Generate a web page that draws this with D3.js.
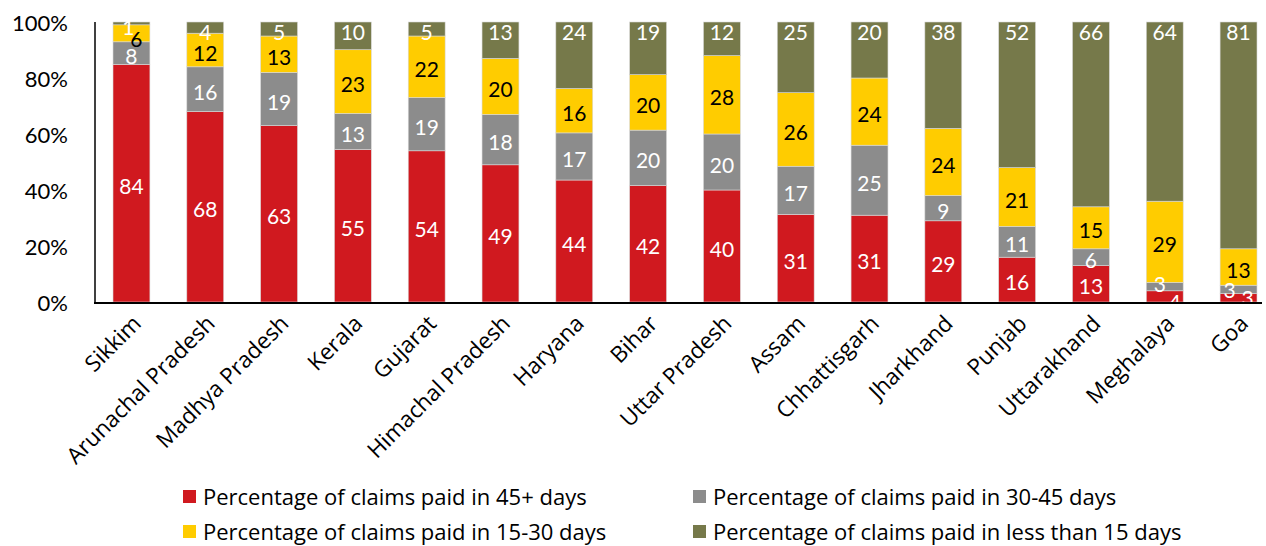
<!DOCTYPE html>
<html><head><meta charset="utf-8">
<script src="https://cdn.jsdelivr.net/npm/d3@7"></script>
<style>body{margin:0;background:#fff;}svg{display:block;}</style>
</head><body>
<svg id="c" width="1266" height="546"></svg>
<script>
const states = ["Sikkim","Arunachal Pradesh","Madhya Pradesh","Kerala","Gujarat","Himachal Pradesh","Haryana","Bihar","Uttar Pradesh","Assam","Chhattisgarh","Jharkhand","Punjab","Uttarakhand","Meghalaya","Goa"];
const paid45plus = [84,68,63,55,54,49,44,42,40,31,31,29,16,13,4,3];
const paid30to45 = [8,16,19,13,19,18,17,20,20,17,25,9,11,6,3,3];
const paid15to30 = [6,12,13,23,22,20,16,20,28,26,24,24,21,15,29,13];
const paidLess15 = [1,4,5,10,5,13,24,19,12,25,20,38,52,66,64,81];
const seriesNames = ["Percentage of claims paid in 45+ days","Percentage of claims paid in 30-45 days","Percentage of claims paid in 15-30 days","Percentage of claims paid in less than 15 days"];
const yTicks = [0,0.2,0.4,0.6,0.8,1];

const keys = ["a","b","c","d"];
const colors = ["#D0191F","#8C8C8C","#FFCC00","#76794A"];
const labelColors = ["#fff","#fff","#000","#fff"];
const table = states.map((s,i)=>({state:s,a:paid45plus[i],b:paid30to45[i],c:paid15to30[i],d:paidLess15[i]}));
const stacked = d3.stack().keys(keys).offset(d3.stackOffsetExpand)(table);

const svg = d3.select("#c");
const x = d3.scaleBand().domain(states).range([95,1275]).paddingInner(0.5).paddingOuter(0.244);
const y = d3.scaleLinear().domain([0,1]).range([302,22]);

// bars
const g = svg.append("g");
stacked.forEach((ser,si)=>{
  g.selectAll(null).data(ser).enter().append("rect")
    .attr("x",d=>x(d.data.state)).attr("width",x.bandwidth())
    .attr("y",d=>y(d[1])).attr("height",d=>y(d[0])-y(d[1]))
    .attr("fill",colors[si]).attr("stroke","#d9d9d9").attr("stroke-width",0.6);
});

// label nudges for crowded small segments
const nudge = {"Sikkim|d":[-3,-5],"Sikkim|c":[5,3],"Meghalaya|b":[-5,-5],"Meghalaya|a":[10,3],"Goa|b":[-9,-2],"Goa|a":[9,-2]};
function labelY(d,si){
  if (si===3) return y(d[1]) + 10;           // inside end for the top series
  return (y(d[0])+y(d[1]))/2 + 3;
}
stacked.forEach((ser,si)=>{
  g.selectAll(null).data(ser).enter().append("text")
    .attr("x",d=>x(d.data.state)+x.bandwidth()/2+((nudge[d.data.state+"|"+keys[si]]||[0,0])[0]))
    .attr("y",d=>labelY(d,si)+((nudge[d.data.state+"|"+keys[si]]||[0,0])[1]))
    .attr("dy","0.36em").attr("text-anchor","middle")
    .attr("font-family","Lato, 'Open Sans', sans-serif").attr("font-size",21)
    .attr("fill",labelColors[si])
    .text(d=>d.data[keys[si]]);
});

// y axis
const yAxis = d3.axisLeft(y).tickValues(yTicks).tickFormat(d3.format(".0%")).tickSize(0).tickPadding(27);
const ya = svg.append("g").attr("transform","translate(95,0)").call(yAxis);
ya.select(".domain").remove();
ya.selectAll("text").attr("font-family","Lato, 'Open Sans', sans-serif").attr("font-size",22).attr("fill","#000").attr("dy","0.4em");
svg.append("line").attr("x1",95).attr("x2",95).attr("y1",y(1)).attr("y2",y(0)+1).attr("stroke","#000").attr("stroke-width",1.5);

// x axis
const xAxis = d3.axisBottom(x).tickSize(0).tickPadding(0);
const xa = svg.append("g").attr("transform",`translate(0,${y(0)})`).call(xAxis);
xa.select(".domain").remove();
svg.append("line").attr("x1",94).attr("x2",1262).attr("y1",y(0)+1).attr("y2",y(0)+1).attr("stroke","#000").attr("stroke-width",2);
xa.selectAll(".tick text")
  .attr("font-family","'Open Sans', sans-serif").attr("font-size",22.5).attr("fill","#000")
  .attr("text-anchor","end").attr("dy",0).attr("y",0)
  .attr("transform","translate(11,23) rotate(-45)");

// legend
const leg = svg.append("g");
const legPos = [[183,497],[693,497],[183,532],[693,532]];
seriesNames.forEach((n,i)=>{
  const [lx,ly] = legPos[i];
  leg.append("rect").attr("x",lx).attr("y",ly-7).attr("width",13).attr("height",13).attr("fill",colors[i]);
  leg.append("text").attr("x",lx+20).attr("y",ly).attr("dy","0.36em")
    .attr("font-family","'Liberation Sans Narrow', 'Open Sans', sans-serif").attr("font-size",22).attr("fill","#000").text(n);
});
</script>
</body></html>
